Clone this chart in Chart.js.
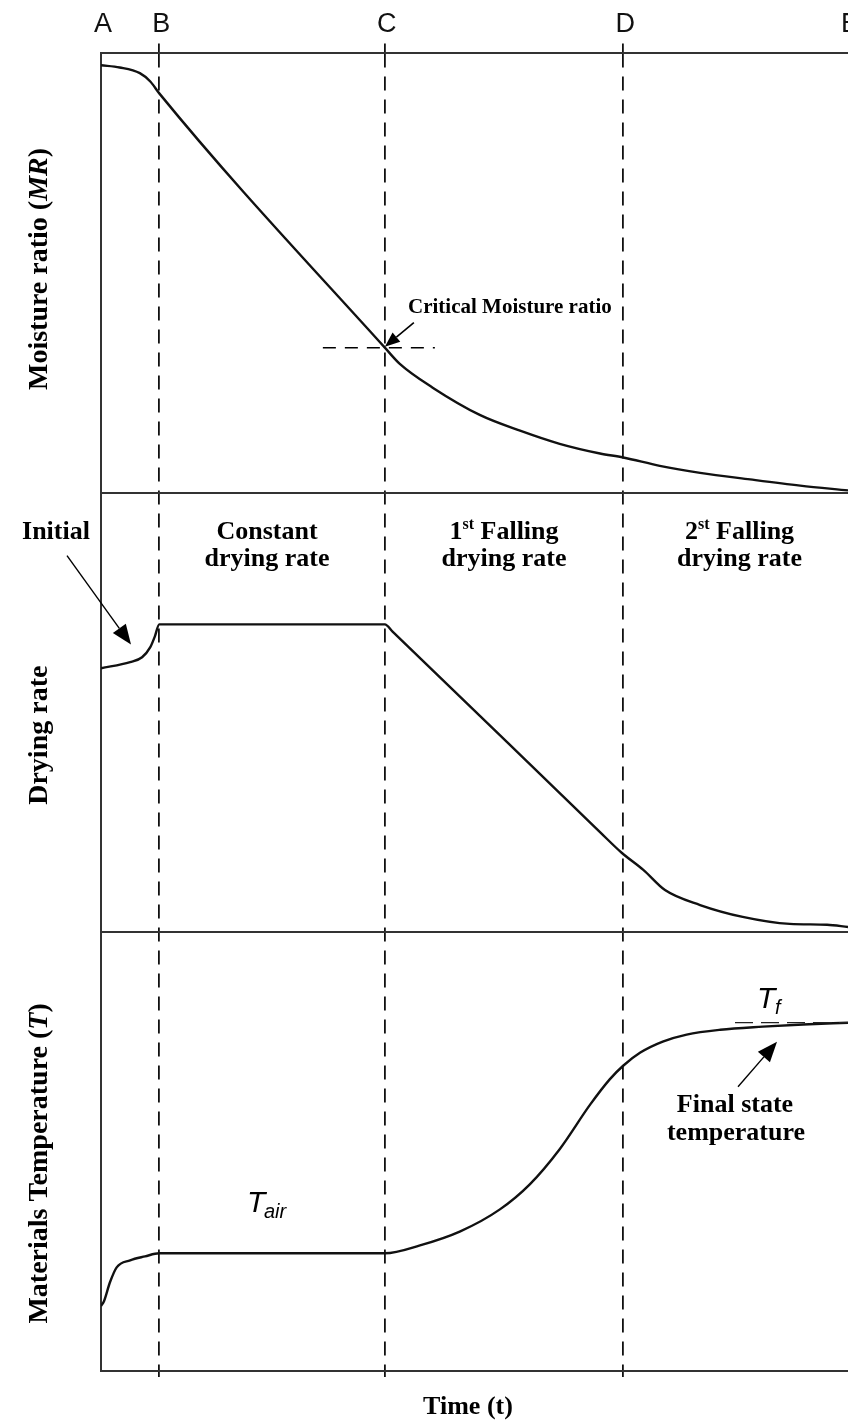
<!DOCTYPE html>
<html lang="en">
<head>
<meta charset="UTF-8">
<title>Drying curves</title>
<script src="https://cdn.jsdelivr.net/npm/chart.js"></script>
<style>
    html, body { margin: 0; padding: 0; background: #fff; }
    #wrap { width: 848px; height: 1423px; position: relative; }
</style>
</head>
<body>
<div id="wrap"><canvas id="dryingChart"></canvas></div>
<script>
    // Phase boundaries on the time axis (A..E)
    const phaseX = [0, 7.8, 38, 69.9, 100];
    const phaseLabels = ['A', 'B', 'C', 'D', 'E'];

    // Moisture ratio (top panel)
    const timeMR = [0, 2.5, 5.2, 6.6, 7.8, 38, 40, 44.4, 50.7, 56.1, 61.4, 66.8, 69.9, 74.8, 80.2, 86.9, 93.6, 100];
    const moistureRatio = [0.973, 0.968, 0.955, 0.936, 0.909, 0.330, 0.293, 0.239, 0.177, 0.141, 0.111, 0.089, 0.080, 0.061, 0.045, 0.030, 0.016, 0.005];
    const criticalIndex = 5;

    // Drying rate (middle panel)
    const timeRate = [0, 3.9, 5.5, 6.6, 7.2, 7.8, 38, 39, 66.8, 69.7, 72.6, 75.5, 80.2, 85.9, 92.2, 97.2, 100];
    const dryingRate = [0.600, 0.614, 0.625, 0.648, 0.672, 0.700, 0.700, 0.684, 0.227, 0.180, 0.141, 0.095, 0.061, 0.034, 0.018, 0.016, 0.011];

    // Material temperature (bottom panel)
    const timeTemp = [0, 0.4, 1.2, 2.1, 3.9, 5.9, 7.8, 38, 42.7, 48.1, 53.4, 57.4, 61.4, 65.5, 68.1, 69.9, 72.2, 75.2, 78.4, 82.9, 88.6, 94.0, 100];
    const temperature = [0.148, 0.159, 0.202, 0.236, 0.252, 0.261, 0.268, 0.268, 0.286, 0.318, 0.368, 0.425, 0.505, 0.607, 0.664, 0.695, 0.725, 0.750, 0.766, 0.777, 0.784, 0.789, 0.793];

    const lineColor = '#111';
    const frameColor = '#333';
    const serifBold = size => `bold ${size}px "Liberation Serif", "Times New Roman", serif`;
    const serifBoldItalic = size => `italic bold ${size}px "Liberation Serif", "Times New Roman", serif`;
    const sansItalic = size => `italic ${size}px "Liberation Sans", Arial, sans-serif`;

    const toPoints = (xs, ys) => xs.map((x, i) => ({ x: x, y: ys[i] }));
    const hideEnds = c => (c.index === 0 || c.index === phaseX.length - 1) ? 'rgba(0,0,0,0)' : lineColor;
    const phaseTicks = scale => { scale.ticks = phaseX.map(v => ({ value: v })); };
    const noSidePadding = scale => { scale.paddingLeft = 0; scale.paddingRight = 0; };
    const topOnly = scale => { scale.ticks = [{ value: 1 }]; };

    function drawParts(ctx, parts, cx, y) {
        let total = 0;
        parts.forEach(p => { ctx.font = p[1]; p.w = ctx.measureText(p[0]).width; total += p.w; });
        let x = cx - total / 2;
        ctx.textAlign = 'left';
        parts.forEach(p => { ctx.font = p[1]; ctx.fillText(p[0], x, y + (p[2] || 0)); x += p.w; });
    }

    function drawArrow(ctx, x1, y1, x2, y2, head, half) {
        const a = Math.atan2(y2 - y1, x2 - x1);
        const bx = x2 - head * Math.cos(a), by = y2 - head * Math.sin(a);
        ctx.beginPath();
        ctx.moveTo(x1, y1);
        ctx.lineTo(bx, by);
        ctx.stroke();
        ctx.beginPath();
        ctx.moveTo(x2, y2);
        ctx.lineTo(bx + half * Math.sin(a), by - half * Math.cos(a));
        ctx.lineTo(bx - half * Math.sin(a), by + half * Math.cos(a));
        ctx.closePath();
        ctx.fill();
    }

    // Texts, arrows and helper dashes on top of the chart
    const annotations = {
        id: 'annotations',
        afterDraw(chart) {
            const { ctx, scales, chartArea } = chart;
            const x = scales.x, yMR = scales.yMR, yRate = scales.yRate, yT = scales.yTemp;
            const px = v => x.getPixelForValue(v);
            ctx.save();
            ctx.fillStyle = '#000';
            ctx.strokeStyle = '#000';
            ctx.textBaseline = 'alphabetic';

            // rotated axis titles
            const titles = [
                { parts: [['Moisture ratio (', serifBold(28)], ['MR', serifBoldItalic(28)], [')', serifBold(28)]], cy: (yMR.top + yMR.bottom) / 2 - 4 },
                { parts: [['Drying rate', serifBold(28)]], cy: (yRate.top + yRate.bottom) / 2 + 23 },
                { parts: [['Materials Temperature (', serifBold(28)], ['T', serifBoldItalic(28)], [')', serifBold(28)]], cy: (yT.top + yT.bottom) / 2 + 12 }
            ];
            titles.forEach(t => {
                ctx.save();
                ctx.translate(40, t.cy);
                ctx.rotate(-Math.PI / 2);
                ctx.textBaseline = 'middle';
                drawParts(ctx, t.parts, 0, 0);
                ctx.restore();
            });

            // x axis title
            drawParts(ctx, [['Time (t)', serifBold(26)]], 468, chartArea.bottom + 43);

            // critical moisture ratio
            const cx = px(timeMR[criticalIndex]);
            const cy = yMR.getPixelForValue(moistureRatio[criticalIndex]);
            ctx.save();
            ctx.lineWidth = 1.5;
            ctx.setLineDash([13, 9]);
            ctx.beginPath();
            ctx.moveTo(cx - 62, cy);
            ctx.lineTo(cx + 50, cy);
            ctx.stroke();
            ctx.restore();
            ctx.lineWidth = 1.6;
            drawArrow(ctx, cx + 29, cy - 25, cx, cy - 1, 15, 6);
            drawParts(ctx, [['Critical Moisture ratio', serifBold(21)]], cx + 125, cy - 35);

            // phase labels in the drying rate panel
            const b1 = yRate.top + 46, b2 = yRate.top + 73;
            const mid = (i) => (px(phaseX[i]) + px(phaseX[i + 1])) / 2;
            drawParts(ctx, [['Constant', serifBold(26)]], mid(1) - 5, b1);
            drawParts(ctx, [['drying rate', serifBold(26)]], mid(1) - 5, b2);
            drawParts(ctx, [['1', serifBold(26)], ['st', serifBold(16), -10], [' Falling', serifBold(26)]], mid(2), b1);
            drawParts(ctx, [['drying rate', serifBold(26)]], mid(2), b2);
            drawParts(ctx, [['2', serifBold(26)], ['st', serifBold(16), -10], [' Falling', serifBold(26)]], mid(3) + 4, b1);
            drawParts(ctx, [['drying rate', serifBold(26)]], mid(3) + 4, b2);

            // initial stage
            drawParts(ctx, [['Initial', serifBold(26)]], 56, b1);
            ctx.lineWidth = 1.4;
            drawArrow(ctx, x.left - 34, yRate.top + 63, x.left + 30, yRate.top + 152, 20, 8);

            // temperature annotations
            const tf = yT.getPixelForValue(temperature[temperature.length - 1]);
            ctx.save();
            ctx.lineWidth = 1.3;
            ctx.strokeStyle = '#222';
            ctx.setLineDash([18, 8]);
            ctx.beginPath();
            ctx.moveTo(735, tf);
            ctx.lineTo(chartArea.right, tf);
            ctx.stroke();
            ctx.restore();

            ctx.textAlign = 'left';
            ctx.font = sansItalic(30);
            ctx.fillText('T', 757, yT.top + 76);
            ctx.font = sansItalic(20);
            ctx.fillText('f', 775, yT.top + 82);

            ctx.font = sansItalic(30);
            ctx.fillText('T', 247, yT.top + 280);
            ctx.font = sansItalic(20);
            ctx.fillText('air', 264, yT.top + 286);

            ctx.lineWidth = 1.4;
            drawArrow(ctx, 738, yT.top + 155, 777, yT.top + 110, 20, 8);
            drawParts(ctx, [['Final state', serifBold(26)]], 735, yT.top + 180);
            drawParts(ctx, [['temperature', serifBold(26)]], 736, yT.top + 208);

            ctx.restore();
        }
    };

    const baseLine = {
        borderColor: lineColor,
        borderWidth: 2.4,
        pointRadius: 0,
        fill: false,
        cubicInterpolationMode: 'monotone'
    };

    const panelAxis = {
        type: 'linear',
        position: 'left',
        stack: 'panels',
        stackWeight: 1,
        min: 0,
        max: 1,
        afterBuildTicks: topOnly,
        ticks: { display: false },
        grid: { display: true, drawTicks: false, color: frameColor, lineWidth: 2 },
        border: { display: true, color: frameColor, width: 2 }
    };

    new Chart(document.getElementById('dryingChart'), {
        type: 'line',
        data: {
            datasets: [
                Object.assign({ label: 'Materials Temperature', data: toPoints(timeTemp, temperature), yAxisID: 'yTemp' }, baseLine),
                Object.assign({ label: 'Drying rate', data: toPoints(timeRate, dryingRate), yAxisID: 'yRate' }, baseLine),
                Object.assign({ label: 'Moisture ratio', data: toPoints(timeMR, moistureRatio), yAxisID: 'yMR' }, baseLine)
            ]
        },
        options: {
            responsive: true,
            maintainAspectRatio: false,
            animation: false,
            devicePixelRatio: 1,
            layout: { padding: { top: 5, left: 101, right: 0, bottom: 46 } },
            plugins: {
                legend: { display: false },
                tooltip: { enabled: false }
            },
            scales: {
                x: {
                    type: 'linear',
                    position: 'bottom',
                    min: 0,
                    max: 100,
                    afterBuildTicks: phaseTicks,
                    afterFit: noSidePadding,
                    ticks: { display: false },
                    grid: {
                        display: true,
                        drawOnChartArea: true,
                        drawTicks: true,
                        tickLength: 6,
                        color: hideEnds,
                        tickColor: hideEnds,
                        lineWidth: 1.8,
                        tickWidth: 1.8
                    },
                    border: { display: true, color: frameColor, width: 2, dash: [14, 9] }
                },
                xTop: {
                    type: 'linear',
                    position: 'top',
                    min: 0,
                    max: 100,
                    afterBuildTicks: phaseTicks,
                    afterFit: noSidePadding,
                    ticks: {
                        display: true,
                        autoSkip: false,
                        maxRotation: 0,
                        padding: 3,
                        labelOffset: 2,
                        color: '#111',
                        font: { family: '"Liberation Sans Narrow", "Liberation Sans", Arial, sans-serif', size: 27 },
                        callback: (v, i) => phaseLabels[i]
                    },
                    grid: { drawOnChartArea: false, drawTicks: true, tickLength: 10, color: hideEnds, lineWidth: 1.8 },
                    border: { display: true, color: frameColor, width: 2 }
                },
                yTemp: Object.assign({}, panelAxis),
                yRate: Object.assign({}, panelAxis),
                yMR: Object.assign({}, panelAxis)
            }
        },
        plugins: [annotations]
    });
</script>
</body>
</html>
